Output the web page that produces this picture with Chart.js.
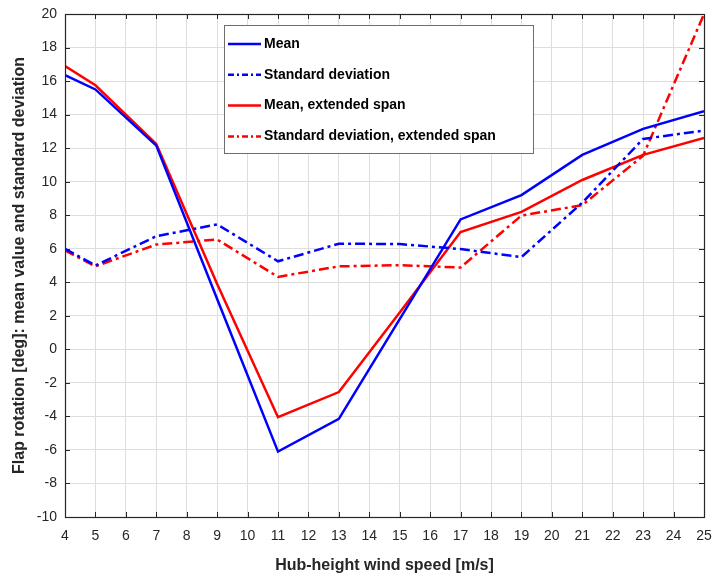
<!DOCTYPE html>
<html>
<head>
<meta charset="utf-8">
<script src="https://cdn.jsdelivr.net/npm/chart.js@4"></script>
<style>
html,body{margin:0;padding:0;background:#fff;overflow:hidden;}
#wrap{width:712px;height:573px;}
</style>
</head>
<body>
<div id="wrap"><canvas id="c" width="712" height="573"></canvas></div>
<script>
const windSpeed = [4, 5, 7, 9, 11, 13, 15, 17, 19, 21, 23, 25];
const meanVal   = [16.35, 15.5, 12.15, 3.0, -6.1, -4.15, 1.8, 7.75, 9.2, 11.6, 13.15, 14.2];
const stdVal    = [6.0, 5.0, 6.75, 7.45, 5.25, 6.3, 6.28, 5.98, 5.5, 8.75, 12.55, 13.05];
const meanExt   = [16.9, 15.75, 12.25, 3.9, -4.05, -2.55, 2.2, 7.0, 8.2, 10.1, 11.6, 12.6];
const stdExt    = [5.9, 4.95, 6.25, 6.55, 4.32, 4.95, 5.02, 4.88, 7.98, 8.6, 11.55, 20.0];
const seriesLabels = ['Mean', 'Standard deviation', 'Mean, extended span', 'Standard deviation, extended span'];
const xTitle = 'Hub-height wind speed [m/s]';
const yTitle = 'Flap rotation [deg]: mean value and standard deviation';

const BLUE = '#0000ff', RED = '#ff0000';
const DASHDOT = [10, 4, 3, 4];
const pts = arr => windSpeed.map((x, i) => ({x: x, y: arr[i]}));

const datasets = [
  {label: seriesLabels[0], data: pts(meanVal), borderColor: BLUE, borderDash: []},
  {label: seriesLabels[1], data: pts(stdVal), borderColor: BLUE, borderDash: DASHDOT},
  {label: seriesLabels[2], data: pts(meanExt), borderColor: RED, borderDash: []},
  {label: seriesLabels[3], data: pts(stdExt), borderColor: RED, borderDash: DASHDOT}
].map(d => Object.assign(d, {borderWidth: 2.5, pointRadius: 0, tension: 0, fill: false}));

const AXIS = '#262626';

const boxTicks = {
  id: 'boxTicks',
  afterDatasetsDraw(chart) {
    const {ctx, chartArea: a, scales: {x, y}} = chart;
    ctx.save();
    ctx.strokeStyle = AXIS;
    ctx.lineWidth = 1;
    const L = 5;
    ctx.beginPath();
    x.ticks.forEach(t => {
      const px = Math.round(x.getPixelForValue(t.value)) + 0.5;
      ctx.moveTo(px, a.bottom); ctx.lineTo(px, a.bottom - L);
      ctx.moveTo(px, a.top); ctx.lineTo(px, a.top + L);
    });
    y.ticks.forEach(t => {
      const py = Math.round(y.getPixelForValue(t.value)) + 0.5;
      ctx.moveTo(a.left, py); ctx.lineTo(a.left + L, py);
      ctx.moveTo(a.right, py); ctx.lineTo(a.right - L, py);
    });
    ctx.stroke();
    ctx.lineWidth = 1.2;
    ctx.strokeRect(Math.round(a.left) + 0.5, Math.round(a.top) + 0.5, Math.round(a.right - a.left), Math.round(a.bottom - a.top));
    ctx.restore();
  },
  afterDraw(chart) {
    const {ctx, chartArea: a} = chart;
    const bx = a.left + 159, by = a.top + 11, bw = 309, bh = 128;
    ctx.save();
    ctx.fillStyle = '#fff';
    ctx.fillRect(bx, by, bw, bh);
    ctx.strokeStyle = '#6e6e6e';
    ctx.lineWidth = 1;
    ctx.strokeRect(bx + 0.5, by + 0.5, bw, bh);
    ctx.font = 'bold 14px "Liberation Sans", Arial, sans-serif';
    ctx.textBaseline = 'middle';
    ctx.fillStyle = '#000';
    chart.data.datasets.forEach((d, i) => {
      const ly = by + 19 + i * 30.8;
      ctx.strokeStyle = d.borderColor;
      ctx.lineWidth = 2.5;
      ctx.setLineDash(d.borderDash.length ? [6, 3, 2, 3] : []);
      ctx.beginPath();
      ctx.moveTo(bx + 4, ly); ctx.lineTo(bx + 37, ly);
      ctx.stroke();
      ctx.setLineDash([]);
      ctx.fillText(d.label, bx + 40, ly);
    });
    ctx.restore();
  }
};

new Chart(document.getElementById('c'), {
  type: 'line',
  data: {datasets: datasets},
  plugins: [boxTicks],
  options: {
    responsive: false,
    animation: false,
    events: [],
    layout: {autoPadding: false, padding: {top: 14, right: 8, left: 0, bottom: 0}},
    plugins: {legend: {display: false}, tooltip: {enabled: false}},
    scales: {
      x: {
        type: 'linear', min: 4, max: 25,
        afterFit(s) { s.height = 56; s.paddingLeft = 0; s.paddingRight = 0; },
        ticks: {stepSize: 1, color: AXIS, padding: 11, maxRotation: 0, autoSkip: false,
                font: {family: '"Liberation Sans", Arial, sans-serif', size: 14}},
        grid: {color: '#dedede', lineWidth: 1, drawTicks: false},
        border: {display: false},
        title: {display: true, text: xTitle, color: AXIS, padding: {top: 0, bottom: -2},
                font: {family: '"Liberation Sans", Arial, sans-serif', size: 16, weight: 'bold'}}
      },
      y: {
        min: -10, max: 20,
        afterFit(s) { s.width = 65; s.paddingTop = 0; s.paddingBottom = 0; },
        ticks: {stepSize: 2, color: AXIS, padding: 8,
                font: {family: '"Liberation Sans", Arial, sans-serif', size: 14}},
        grid: {color: '#dedede', lineWidth: 1, drawTicks: false},
        border: {display: false},
        title: {display: true, text: yTitle, color: AXIS, padding: {top: 10, bottom: 0},
                font: {family: '"Liberation Sans", Arial, sans-serif', size: 16, weight: 'bold'}}
      }
    }
  }
});
</script>
</body>
</html>
